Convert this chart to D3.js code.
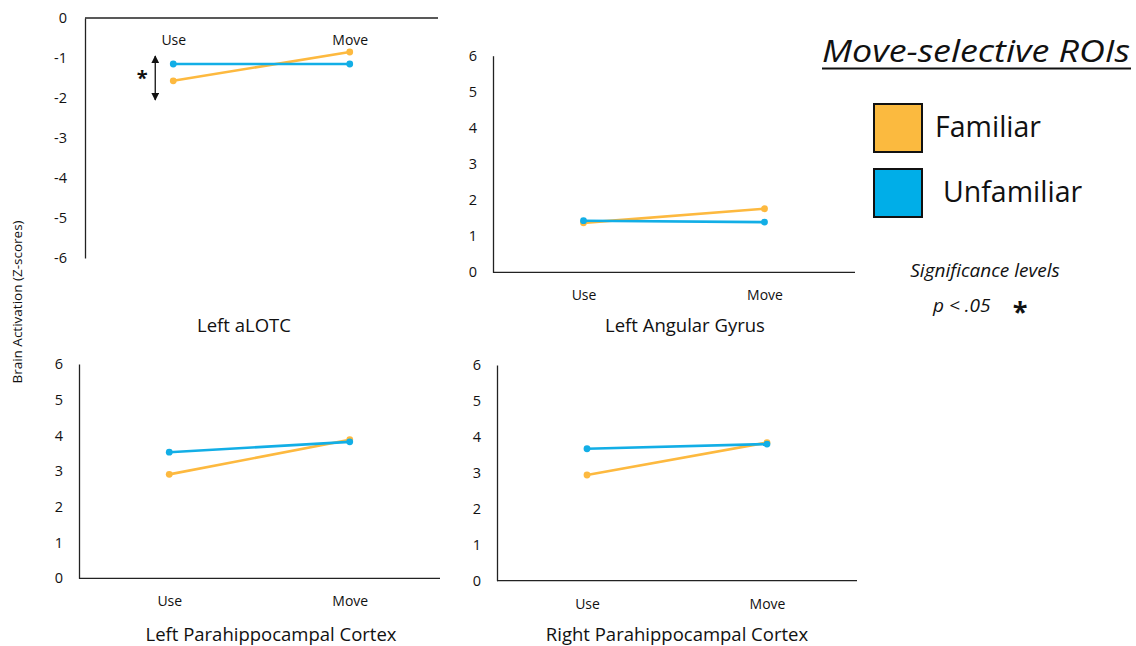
<!DOCTYPE html>
<html>
<head>
<meta charset="utf-8">
<script src="https://cdn.jsdelivr.net/npm/d3@7"></script>
<style>
  html, body { margin: 0; padding: 0; background: #fff; }
  svg { display: block; font-family: "Open Sans", "Noto Sans", sans-serif; }
</style>
</head>
<body>
<svg id="chart" width="1136" height="646"></svg>
<script>
// ---------- data ----------
const categories = ["Use", "Move"];
const panelTitles = ["Left aLOTC", "Left Angular Gyrus", "Left Parahippocampal Cortex", "Right Parahippocampal Cortex"];
const familiarValues = [[-1.57, -0.85], [1.37, 1.76], [2.91, 3.88], [2.94, 3.84]];
const unfamiliarValues = [[-1.15, -1.15], [1.43, 1.39], [3.53, 3.82], [3.67, 3.80]];
const yDomains = [[-6, 0], [0, 6], [0, 6], [0, 6]];
const yTickValues = [[0, -1, -2, -3, -4, -5, -6], [0, 1, 2, 3, 4, 5, 6], [0, 1, 2, 3, 4, 5, 6], [0, 1, 2, 3, 4, 5, 6]];
const seriesNames = ["Familiar", "Unfamiliar"];
const seriesColors = ["#FDB93F", "#12AEE6"];
const legendFill = ["#FBBA3F", "#00AEE8"];
const legendTitle = "Move-selective ROIs";
const yAxisLabel = "Brain Activation (Z-scores)";
const sigTitle = "Significance levels";
const sigLabel = "p < .05";

// ---------- layout ----------
const layout = [
  { x0: 85, x1: 438, yTop: 18, yBot: 258, axisTop: true, titleX: 244, titleY: 332, tickX: 67 },
  { x0: 493, x1: 855, yTop: 55.7, yBot: 272.3, axisTop: false, titleX: 685, titleY: 332, tickX: 477 },
  { x0: 79, x1: 440, yTop: 364, yBot: 578.3, axisTop: false, titleX: 271, titleY: 641, tickX: 63 },
  { x0: 497, x1: 857, yTop: 365, yBot: 580.7, axisTop: false, titleX: 677, titleY: 641, tickX: 481 }
];

const svg = d3.select("#chart");
const defs = svg.append("defs");
defs.append("marker").attr("id", "ah").attr("viewBox", "0 0 10 10").attr("refX", 9).attr("refY", 5)
  .attr("markerWidth", 6).attr("markerHeight", 6).attr("orient", "auto-start-reverse")
  .append("path").attr("d", "M0,0L10,5L0,10z").attr("fill", "#111");

layout.forEach((L, i) => {
  const g = svg.append("g");
  const x = d3.scalePoint().domain(categories).range([L.x0, L.x1]).padding(0.5);
  const y = d3.scaleLinear().domain(yDomains[i]).range([L.yBot, L.yTop]);

  // y axis
  const yAxis = d3.axisLeft(y).tickValues(yTickValues[i]).tickSize(0).tickPadding(L.x0 - L.tickX)
    .tickFormat(d => d < 0 ? "-" + Math.abs(d) : String(d));
  const ya = g.append("g").attr("transform", `translate(${L.x0},0)`).call(yAxis)
    .attr("font-family", null).attr("font-size", null);
  ya.select(".domain").attr("stroke", "#222").attr("stroke-width", 1.3);
  ya.selectAll("text").attr("font-size", 14.5).attr("fill", "#111");

  // x axis
  const axisY = L.axisTop ? L.yTop : L.yBot;
  const xAxis = d3.axisBottom(x).tickSize(0).tickPadding(0);
  const xa = g.append("g").attr("transform", `translate(0,${axisY})`).call(xAxis)
    .attr("font-family", null).attr("font-size", null);
  xa.select(".domain").attr("d", `M${L.x0},0H${L.x1}`).attr("stroke", "#222").attr("stroke-width", 1.3);
  xa.selectAll("text").attr("font-size", 14).attr("fill", "#111")
    .attr("dy", null).attr("y", L.axisTop ? 27 : 28);

  // series
  const allSeries = [familiarValues[i], unfamiliarValues[i]];
  allSeries.forEach((vals, s) => {
    const pts = categories.map((c, k) => ({ c, v: vals[k] }));
    g.append("path").datum(pts)
      .attr("d", d3.line().x(d => x(d.c)).y(d => y(d.v)))
      .attr("fill", "none").attr("stroke", seriesColors[s]).attr("stroke-width", 2.6);
    g.selectAll(null).data(pts).enter().append("circle")
      .attr("cx", d => x(d.c)).attr("cy", d => y(d.v)).attr("r", 3.4)
      .attr("fill", seriesColors[s]);
  });

  // panel title
  g.append("text").attr("x", L.titleX).attr("y", L.titleY)
    .attr("text-anchor", "middle").attr("font-size", 18.5).attr("fill", "#111")
    .text(panelTitles[i]);

  // significance arrow in panel 1
  if (i === 0) {
    const ax = x(categories[0]) - 18;
    const yA = y(-0.95), yB = y(-2.05);
    g.append("line").attr("x1", ax).attr("x2", ax).attr("y1", yA).attr("y2", yB)
      .attr("stroke", "#111").attr("stroke-width", 1.3)
      .attr("marker-start", "url(#ah)").attr("marker-end", "url(#ah)");
    g.append("text").attr("x", ax - 13).attr("y", y(-1.5) + 7).attr("text-anchor", "middle")
      .attr("font-size", 20).attr("font-weight", "bold").attr("fill", "#111").text("*");
  }
});

// y axis label
svg.append("text").attr("transform", "translate(22,302) rotate(-90)")
  .attr("text-anchor", "middle").attr("font-size", 13.5).attr("fill", "#111").text(yAxisLabel);

// legend title
svg.append("text").attr("x", 822).attr("y", 62).attr("font-size", 31).attr("font-style", "italic")
  .attr("fill", "#111").attr("textLength", 308).attr("lengthAdjust", "spacingAndGlyphs").text(legendTitle);
svg.append("line").attr("x1", 822).attr("x2", 1131).attr("y1", 68.5).attr("y2", 68.5)
  .attr("stroke", "#111").attr("stroke-width", 2);

// legend entries
const legendY = [104, 169];
const legendTextX = [935, 943];
seriesNames.forEach((name, s) => {
  svg.append("rect").attr("x", 874).attr("y", legendY[s]).attr("width", 48).attr("height", 48)
    .attr("fill", legendFill[s]).attr("stroke", "#111").attr("stroke-width", 2);
  svg.append("text").attr("x", legendTextX[s]).attr("y", legendY[s] + 33).attr("font-size", 28.5)
    .attr("fill", "#111").text(name);
});

// significance legend
svg.append("text").attr("x", 985).attr("y", 277).attr("text-anchor", "middle")
  .attr("font-size", 19).attr("font-style", "italic").attr("fill", "#111").text(sigTitle);
svg.append("text").attr("x", 933).attr("y", 312).attr("font-size", 19).attr("font-style", "italic")
  .attr("fill", "#111").text(sigLabel);
svg.append("text").attr("x", 1020).attr("y", 321).attr("text-anchor", "middle")
  .attr("font-size", 27).attr("font-weight", "bold").attr("fill", "#111").text("*");
</script>
</body>
</html>
